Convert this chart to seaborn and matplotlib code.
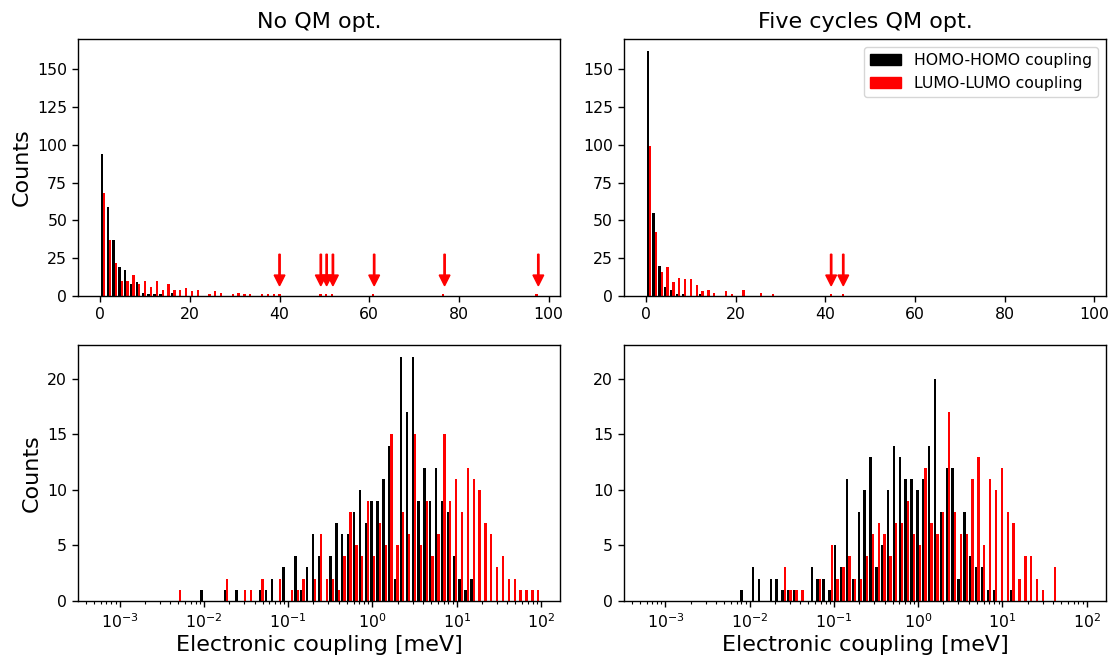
import numpy as np
import pandas as pd
import matplotlib
matplotlib.use("Agg")
import matplotlib.pyplot as plt
import seaborn as sns
from matplotlib.patches import Patch

# ------------------------------------------------------------------ data
panel_titles = ["No QM opt.", "Five cycles QM opt."]
series_labels = ["HOMO-HOMO coupling", "LUMO-LUMO coupling"]
series_colors = ["black", "red"]
x_label = "Electronic coupling [meV]"
y_label = "Counts"

coupling_min = 0.0047   # meV, smallest coupling (sets the bin range)
coupling_max = 97.7     # meV, largest coupling
n_lin_bins = 75
n_log_bins = 62

# counts per linear bin (top row)
lin_hh_noqm = [94, 59, 37, 19, 17, 8, 9, 2, 1, 1, 1, 0, 2]
lin_ll_noqm = [68, 37, 22, 10, 10, 14, 8, 10, 6, 10,
               4, 8, 4, 4, 5, 3, 4, 0, 1, 3,
               2, 0, 1, 2, 1, 1, 0, 1, 1, 1,
               1, 0, 0, 0, 0, 0, 0, 1, 1, 1,
               0, 0, 0, 0, 0, 0, 1, 0, 0, 0,
               0, 0, 0, 0, 0, 0, 0, 0, 1, 0,
               0, 0, 0, 0, 0, 0, 0, 0, 0, 0,
               0, 0, 0, 0, 1]
lin_hh_5cyc = [162, 55, 20, 6, 4, 1, 1, 0, 0, 1]
lin_ll_5cyc = [99, 42, 16, 19, 9, 12, 11, 11, 7, 3,
               4, 2, 0, 3, 1, 0, 4, 0, 0, 2,
               0, 1, 0, 0, 0, 0, 0, 0, 0, 0,
               0, 1, 0, 1]

# counts per logarithmic bin (bottom row)
log_hh_noqm = [0, 0, 0, 0, 1, 0, 0, 0, 1, 0,
               1, 0, 0, 0, 1, 1, 2, 0, 3, 0,
               4, 1, 3, 6, 4, 0, 4, 7, 6, 6,
               8, 10, 7, 9, 9, 11, 14, 2, 22, 17,
               22, 9, 12, 9, 12, 9, 8, 4, 2, 1,
               2]
log_ll_noqm = [1, 0, 0, 0, 0, 0, 0, 0, 2, 0,
               0, 1, 1, 0, 2, 0, 0, 2, 0, 1,
               1, 2, 0, 2, 6, 2, 2, 1, 4, 8,
               5, 4, 9, 4, 7, 5, 15, 5, 8, 6,
               15, 5, 9, 4, 6, 15, 9, 11, 8, 12,
               11, 10, 7, 6, 3, 4, 2, 2, 1, 1,
               1, 1]
log_hh_5cyc = [0, 0, 0, 1, 0, 3, 2, 0, 2, 2,
               1, 1, 1, 0, 0, 3, 2, 2, 1, 5,
               3, 11, 2, 8, 10, 13, 3, 5, 10, 14,
               13, 11, 11, 10, 11, 14, 20, 8, 12, 12,
               2, 8, 4, 3, 3, 1, 1, 0, 0, 1]
log_ll_5cyc = [0, 0, 0, 0, 0, 0, 0, 0, 0, 0,
               3, 1, 1, 1, 0, 0, 2, 0, 5, 2,
               3, 4, 2, 2, 4, 6, 7, 6, 4, 7,
               7, 9, 6, 5, 12, 7, 6, 8, 17, 8,
               6, 6, 11, 13, 5, 11, 10, 12, 8, 7,
               2, 4, 4, 2, 1, 0, 3]

# large LUMO-LUMO couplings marked with arrows (meV)
arrows_noqm = [40.0, 49.2, 50.5, 51.9, 61.1, 76.8, 97.7]
arrows_5cyc = [41.3, 44.0]

# ------------------------------------------------------------------ style
sns.set_theme(style="ticks")
plt.rcParams.update({
    "font.family": ["DejaVu Sans"],
    "axes.edgecolor": "black",
    "axes.linewidth": 1.0,
    "text.color": "black",
    "axes.labelcolor": "black",
    "xtick.color": "black",
    "ytick.color": "black",
    "xtick.labelsize": 11.3,
    "ytick.labelsize": 11.3,
    "xtick.major.size": 4.5,
    "ytick.major.size": 4.5,
    "xtick.minor.size": 2.5,
    "xtick.major.width": 1.0,
    "ytick.major.width": 1.0,
    "xtick.minor.width": 0.8,
    "xtick.major.pad": 3.5,
})

fig = plt.figure(figsize=(11.1, 6.55), dpi=100)
left_x, right_x, w = 0.0705, 0.5622, 0.4342
ax_tl = fig.add_axes([left_x, 0.5485, w, 0.392])
ax_tr = fig.add_axes([right_x, 0.5485, w, 0.392])
ax_bl = fig.add_axes([left_x, 0.0829, w, 0.3908])
ax_br = fig.add_axes([right_x, 0.0829, w, 0.3908])

lin_edges = np.linspace(coupling_min, coupling_max, n_lin_bins + 1)
log_edges = np.linspace(np.log10(coupling_min), np.log10(coupling_max), n_log_bins + 1)


def pad(counts, n):
    return list(counts) + [0] * (n - len(counts))


def draw_hist(ax, hh, ll, edges, log):
    n = len(edges) - 1
    centers = (edges[:-1] + edges[1:]) / 2
    xs = 10 ** centers if log else centers
    df = pd.DataFrame({
        "coupling": np.concatenate([xs, xs]),
        "count": pad(hh, n) + pad(ll, n),
        "series": [series_labels[0]] * n + [series_labels[1]] * n,
    })
    sns.histplot(data=df, x="coupling", weights="count", hue="series",
                 hue_order=series_labels, palette=series_colors,
                 bins=[float(e) for e in edges], multiple="dodge",
                 shrink=0.8, log_scale=log,
                 alpha=1, linewidth=0, legend=False, ax=ax)
    ax.set_xlabel("")
    ax.set_ylabel("")


draw_hist(ax_tl, lin_hh_noqm, lin_ll_noqm, lin_edges, False)
draw_hist(ax_tr, lin_hh_5cyc, lin_ll_5cyc, lin_edges, False)
draw_hist(ax_bl, log_hh_noqm, log_ll_noqm, log_edges, True)
draw_hist(ax_br, log_hh_5cyc, log_ll_5cyc, log_edges, True)

for ax in (ax_tl, ax_tr):
    ax.set_xlim(-4.88, 102.58)
    ax.set_ylim(0, 170.1)
    ax.set_xticks([0, 20, 40, 60, 80, 100])
    ax.set_yticks([0, 25, 50, 75, 100, 125, 150])

for ax in (ax_bl, ax_br):
    ax.set_xscale("log")
    ax.set_xlim(10 ** -3.49, 10 ** 2.23)
    ax.set_ylim(0, 23.1)
    ax.set_yticks([0, 5, 10, 15, 20])
    ax.set_xlabel(x_label, fontsize=16, labelpad=3)

for ax in (ax_tl, ax_bl):
    ax.set_ylabel(y_label, fontsize=16)

ax_tl.set_title(panel_titles[0], fontsize=16, pad=8)
ax_tr.set_title(panel_titles[1], fontsize=16, pad=8)

for ax, pts in ((ax_tl, arrows_noqm), (ax_tr, arrows_5cyc)):
    for xv in pts:
        ax.arrow(xv, 27.5, 0, -20.9, width=0.3, head_width=2.4,
                 head_length=7.1, length_includes_head=True,
                 color="red", zorder=5)

handles = [Patch(facecolor=c, edgecolor=c) for c in series_colors]
ax_tr.legend(handles, series_labels, loc="upper right", fontsize=11.3,
             frameon=True, fancybox=True, framealpha=0.8, edgecolor="0.8")

fig.savefig("out.png", dpi=100)
